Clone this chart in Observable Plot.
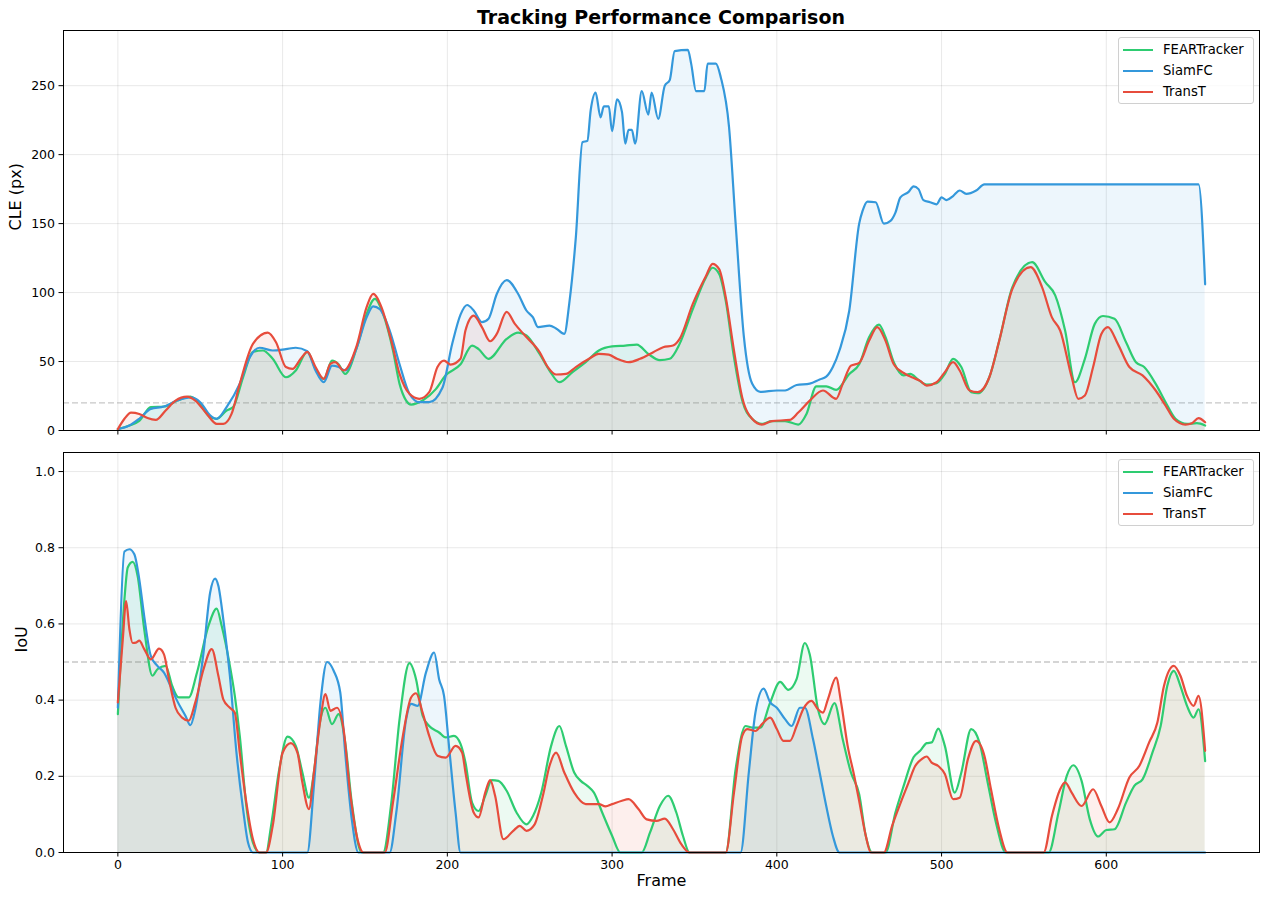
<!DOCTYPE html>
<html>
<head>
<meta charset="utf-8">
<script src="https://cdn.jsdelivr.net/npm/d3@7"></script>
<script src="https://cdn.jsdelivr.net/npm/@observablehq/plot@0.6"></script>
<style>
  html, body { margin: 0; padding: 0; background: #fff; }
  #wrap { position: relative; width: 1270px; height: 903px; font-family: "DejaVu Sans", sans-serif; background: #fff; overflow: hidden; }
  #title { position: absolute; left: 63px; width: 1196px; top: 5px; line-height: 24px; text-align: center; font-weight: bold; font-size: 19px; color: #000; }
  .panel { position: absolute; left: 0; }
  .legend { position: absolute; left: 1118px; width: 136px; height: 67px; border: 1px solid #d0d0d0; border-radius: 3px; background: rgba(255,255,255,0.8); box-sizing: border-box; padding: 1px 0 0 4px; }
  .legend .row { display: flex; align-items: center; height: 21px; font-size: 13.2px; color: #000; }
  .legend .sw { width: 30px; height: 0; border-top: 2.5px solid; margin-right: 10px; }
</style>
</head>
<body>
<div id="wrap">
  <div id="title">Tracking Performance Comparison</div>
  <div id="top" class="panel" style="top:0px"></div>
  <div id="bottom" class="panel" style="top:440px"></div>
</div>
<script>
// ---- Series definitions ----
const seriesNames = ["FEARTracker", "SiamFC", "TransT"];
const seriesColors = ["#2ecc71", "#3498db", "#e74c3c"];

// ---- Axis ticks ----
const frameTicks = [0, 100, 200, 300, 400, 500, 600];
const cleTicks = [0, 50, 100, 150, 200, 250];
const iouTicks = [0, 0.2, 0.4, 0.6, 0.8, 1.0];
const cleThreshold = 20;
const iouThreshold = 0.5;

// ---- CLE (px) per frame [frame, value] ----
const cleFEAR = [[0,1],[7,3.6],[13,7],[20,17],[28,17.4],[36,21.7],[44,24.6],[50,19],[56,9.7],[60,8.5],[66,14.5],[70,17],[76,38.6],[82,57],[88,58],[94,52],[102,38.6],[108,43.5],[115,57],[120,44.7],[125,37.4],[130,50.7],[134,48],[138,41],[145,60],[151,84.5],[156,95.4],[161,84.5],[167,58],[171,33.8],[175,21.7],[178,18.8],[185,21.7],[193,30],[199,40],[208,48],[215,61.6],[219,59],[225,52],[236,66.4],[243,71],[248,69],[256,55.5],[262,43.5],[268,35],[276,42.3],[284,49.5],[292,58],[300,61],[308,61.6],[315,62.3],[322,55.5],[329,51],[335,52],[341,62.8],[349,88],[357,111],[361,118],[365,113.5],[369,94],[374,53],[379,21.7],[385,8.5],[391,4.8],[397,6.8],[405,6.8],[413,4.3],[418,12],[424,32],[430,32],[436,29.5],[444,41],[450,48],[456,67.6],[462,76.8],[466,67.6],[471,49.5],[477,40],[481,41],[486,36.7],[491,33.3],[497,34.3],[502,41],[507,52],[512,46],[518,27.8],[522,27],[529,38.6],[535,65],[543,104],[555,122],[563,107.5],[569,98],[575,72.5],[581,35],[587,52],[593,77.3],[598,83],[605,81],[612,64],[618,49.5],[623,46],[630,33.8],[636,20.5],[642,8.5],[649,4.8],[655,5.3],[660,3.6]];
const cleSiamFC = [[0,1],[7,3.6],[13,8.5],[20,15.7],[28,17.4],[36,21.7],[44,24],[50,20.5],[56,11],[60,8.5],[66,17],[74,34],[80,53],[86,60],[94,58],[102,59],[108,60],[115,57.5],[120,43.5],[125,35],[130,47],[134,46],[138,43.5],[145,60],[151,82],[155,90],[159,88],[165,72.5],[171,48],[177,26.6],[183,20.5],[189,20.5],[197,31],[203,63],[208,84],[212,91],[216,87],[221,78.5],[225,81],[230,99],[236,109],[243,99],[248,87],[252,82],[255,75],[262,76],[266,74],[271,70],[274,92],[278,140],[282,209],[285,210],[287,232],[290,245],[293,227],[295,235],[298,235],[300,217],[303,240],[306,231],[308,208],[310,218],[312,218],[314,208],[318,246],[322,229],[324,245],[328,226],[332,250],[335,254],[338,275],[346,276],[348,266],[351,246],[356,246],[358,266],[363,266],[366,256],[371,220],[375,150],[380,68],[385,34],[390,28],[400,29],[405,29],[412,33],[420,34],[426,37],[430,39],[434,46],[438,58],[444,87],[450,150],[452,159],[455,166],[460,165.5],[465,150],[469,152],[472,158],[475,169],[480,173],[483,177],[486,175],[489,167],[493,165.5],[497,164],[500,169],[503,167],[507,170],[511,174],[515,171.5],[521,174],[526,178.5],[550,178.5],[580,178.5],[620,178.5],[656,178.5],[660,106]];
const cleTransT = [[0,1],[4,8.5],[8,13],[13,12],[18,9],[23,7.7],[29,14.5],[35,21.7],[42,24.6],[47,21.7],[54,12],[60,4.8],[64,4.8],[69,12],[74,33.8],[82,62.8],[91,71],[96,64],[102,46],[106,44.7],[111,52],[115,57],[120,46],[125,37.4],[129,48.3],[132,49.5],[137,43.5],[145,61.6],[151,89.4],[155,99],[160,89.4],[166,65],[171,41],[177,26.6],[183,23],[189,27.8],[194,46],[198,50.7],[202,47.8],[208,52],[211,72.5],[216,83.3],[221,75],[226,64.7],[230,70],[236,86],[241,77.3],[247,69],[256,56.8],[261,46],[266,40.6],[272,41],[278,46],[286,52],[292,55.5],[298,55],[303,52],[310,49.5],[317,52],[325,56.8],[331,60.4],[337,61.6],[341,66.4],[349,91.8],[357,112],[361,120.8],[365,117],[369,96.6],[374,58],[379,24],[385,8.5],[391,4.3],[397,6.8],[408,7.7],[413,13],[420,21.7],[428,29],[436,23],[440,33.8],[445,47],[450,49],[456,65],[461,75],[466,65],[471,48],[478,41],[482,38.6],[487,36],[491,32.6],[497,35],[502,42.3],[507,49.5],[511,43.5],[517,29],[522,27.8],[529,38.6],[535,65],[543,102.7],[554,118.4],[561,104],[567,82],[572,72.5],[579,38.6],[583,23],[587,25.4],[592,46],[597,70],[601,75],[607,62.8],[614,46],[622,40],[630,29],[636,18],[641,8.5],[648,4.3],[652,5.3],[656,9],[660,6]];

// ---- IoU per frame [frame, value] ----
const iouFEAR = [[0,0.363],[4,0.665],[6,0.748],[9,0.763],[12,0.726],[16,0.586],[21,0.464],[24,0.481],[29,0.49],[33,0.437],[37,0.407],[43,0.407],[48,0.472],[55,0.595],[60,0.64],[63,0.595],[68,0.49],[71,0.411],[74,0.306],[78,0.122],[82,0.026],[86,0],[90,0],[93,0.07],[98,0.219],[103,0.304],[108,0.28],[112,0.21],[116,0.144],[119,0.21],[122,0.324],[126,0.38],[130,0.337],[134,0.363],[138,0.289],[142,0.131],[148,0],[161,0],[166,0.131],[171,0.35],[177,0.497],[181,0.455],[185,0.359],[189,0.332],[195,0.315],[199,0.302],[204,0.306],[208,0.285],[211,0.236],[215,0.131],[219,0.109],[223,0.149],[227,0.19],[231,0.188],[236,0.162],[242,0.105],[248,0.074],[252,0.096],[257,0.157],[263,0.28],[268,0.332],[272,0.28],[277,0.21],[281,0.188],[285,0.175],[289,0.157],[294,0.105],[300,0.044],[305,0],[318,0],[323,0.052],[329,0.122],[334,0.149],[339,0.105],[343,0.044],[347,0],[369,0],[375,0.219],[381,0.332],[385,0.328],[390,0.328],[396,0.394],[402,0.448],[407,0.427],[412,0.455],[417,0.55],[420,0.52],[425,0.376],[429,0.337],[435,0.392],[440,0.297],[445,0.21],[450,0.153],[454,0.044],[458,0],[466,0],[472,0.105],[477,0.175],[483,0.25],[487,0.267],[491,0.287],[494,0.289],[498,0.325],[502,0.28],[508,0.157],[512,0.21],[518,0.324],[523,0.289],[528,0.184],[533,0.079],[539,0],[565,0],[571,0.105],[576,0.201],[580,0.229],[585,0.188],[590,0.087],[595,0.042],[600,0.059],[605,0.061],[612,0.131],[617,0.175],[622,0.192],[628,0.262],[633,0.332],[637,0.437],[641,0.477],[645,0.437],[649,0.385],[653,0.354],[656,0.376],[660,0.24]];
const iouSiamFC = [[0,0.38],[4,0.79],[7,0.796],[10,0.783],[13,0.717],[16,0.62],[20,0.516],[24,0.49],[28,0.472],[32,0.437],[36,0.398],[41,0.359],[44,0.334],[47,0.376],[52,0.525],[56,0.682],[59,0.719],[61,0.7],[64,0.612],[68,0.464],[72,0.262],[76,0.114],[79,0.026],[82,0],[115,0],[119,0.175],[123,0.394],[127,0.5],[131,0.477],[135,0.42],[138,0.262],[142,0.087],[146,0],[165,0],[169,0.105],[175,0.35],[178,0.39],[182,0.385],[187,0.472],[192,0.525],[195,0.455],[198,0.411],[201,0.28],[205,0.105],[208,0],[378,0],[383,0.21],[387,0.367],[392,0.43],[396,0.394],[400,0.38],[405,0.35],[409,0.332],[414,0.38],[417,0.38],[422,0.297],[426,0.21],[430,0.122],[434,0.044],[438,0],[660,0]];
const iouTransT = [[0,0.394],[3,0.56],[5,0.66],[7,0.586],[9,0.55],[11,0.551],[13,0.556],[16,0.534],[20,0.507],[25,0.535],[28,0.52],[31,0.455],[35,0.38],[39,0.354],[43,0.346],[47,0.394],[52,0.481],[57,0.534],[61,0.464],[64,0.402],[68,0.38],[71,0.367],[74,0.262],[78,0.131],[82,0.035],[86,0],[90,0],[94,0.07],[100,0.262],[105,0.287],[109,0.262],[112,0.184],[116,0.114],[119,0.21],[123,0.35],[126,0.416],[129,0.372],[133,0.38],[137,0.324],[141,0.157],[146,0.026],[149,0],[162,0],[167,0.131],[173,0.306],[178,0.407],[181,0.418],[185,0.367],[189,0.306],[194,0.254],[199,0.249],[205,0.28],[209,0.262],[211,0.21],[216,0.105],[219,0.092],[223,0.157],[226,0.19],[229,0.149],[234,0.035],[240,0.057],[244,0.07],[248,0.057],[253,0.074],[258,0.149],[262,0.227],[266,0.262],[271,0.21],[277,0.157],[284,0.127],[292,0.127],[296,0.121],[300,0.127],[306,0.136],[310,0.14],[316,0.114],[321,0.087],[327,0.083],[332,0.089],[337,0.061],[342,0.022],[347,0],[369,0],[374,0.157],[379,0.306],[382,0.324],[387,0.319],[391,0.337],[396,0.354],[400,0.324],[404,0.293],[408,0.293],[412,0.332],[416,0.376],[421,0.398],[425,0.376],[428,0.367],[431,0.402],[436,0.459],[439,0.394],[443,0.28],[447,0.201],[450,0.135],[454,0.044],[457,0],[465,0],[470,0.07],[476,0.14],[480,0.184],[484,0.227],[488,0.245],[491,0.252],[494,0.236],[498,0.227],[502,0.206],[507,0.14],[511,0.144],[516,0.245],[521,0.293],[526,0.254],[530,0.166],[535,0.061],[540,0],[562,0],[567,0.096],[572,0.166],[575,0.184],[579,0.157],[585,0.122],[592,0.166],[597,0.122],[602,0.079],[607,0.114],[614,0.197],[620,0.227],[626,0.289],[631,0.341],[635,0.437],[641,0.49],[645,0.464],[649,0.411],[653,0.385],[656,0.411],[660,0.267]];

// ---- build tidy tables ----
function tidy(list) {
  const out = [];
  list.forEach((arr, i) => arr.forEach(([f, v]) => out.push({frame: f, value: v, series: seriesNames[i]})));
  return out;
}
const cleData = tidy([cleFEAR, cleSiamFC, cleTransT]);
const iouData = tidy([iouFEAR, iouSiamFC, iouTransT]);

const FONT = "DejaVu Sans, sans-serif";
const curve = "monotone-x";

function seriesMarks(data) {
  const marks = [];
  seriesNames.forEach((name, i) => {
    marks.push(Plot.areaY(data.filter(d => d.series === name), {x: "frame", y: "value", fill: seriesColors[i], fillOpacity: 0.09, curve}));
  });
  seriesNames.forEach((name, i) => {
    marks.push(Plot.lineY(data.filter(d => d.series === name), {x: "frame", y: "value", stroke: seriesColors[i], strokeWidth: 2.2, curve}));
  });
  return marks;
}

function panel({data, height, marginTop, marginBottom, yDomain, yTicks, yFormat, yLabel, threshold, showX, labelOffset}) {
  return Plot.plot({
    width: 1270, height, marginLeft: 63, marginRight: 11, marginTop, marginBottom,
    style: {fontFamily: FONT, fontSize: "12.5px", color: "#000", background: "transparent", overflow: "visible"},
    x: {domain: [-33, 693]},
    y: {domain: yDomain},
    marks: [
      Plot.gridX(frameTicks, {stroke: "#000", strokeOpacity: 0.09}),
      Plot.gridY(yTicks, {stroke: "#000", strokeOpacity: 0.09}),
      Plot.ruleY([threshold], {stroke: "#999", strokeOpacity: 0.55, strokeWidth: 1.4, strokeDasharray: "6,3"}),
      ...seriesMarks(data),
      Plot.axisX(frameTicks, {tickSize: 4.5, tickPadding: 3, label: null, tickFormat: showX ? (d => String(d)) : (() => "")}),
      Plot.axisY(yTicks, {tickSize: 4.5, tickPadding: 4, label: null, tickFormat: yFormat}),
      Plot.text([yLabel], {frameAnchor: "left", rotate: -90, dx: -labelOffset, fontSize: 16, fill: "#000"}),
      ...(showX ? [Plot.text(["Frame"], {frameAnchor: "bottom", dy: 33, fontSize: 16, fill: "#000"})] : []),
      Plot.frame({stroke: "#000", strokeWidth: 1})
    ]
  });
}

document.getElementById("top").appendChild(panel({
  data: cleData, height: 440, marginTop: 30, marginBottom: 10,
  yDomain: [0, 290], yTicks: cleTicks, yFormat: d => String(d), yLabel: "CLE (px)",
  threshold: cleThreshold, showX: false, labelOffset: 48
}));
document.getElementById("bottom").appendChild(panel({
  data: iouData, height: 463, marginTop: 12, marginBottom: 51,
  yDomain: [0, 1.05], yTicks: iouTicks, yFormat: d3.format(".1f"), yLabel: "IoU",
  threshold: iouThreshold, showX: true, labelOffset: 42
}));

function legend(top) {
  const div = document.createElement("div");
  div.className = "legend";
  div.style.top = top + "px";
  seriesNames.forEach((n, i) => {
    const row = document.createElement("div");
    row.className = "row";
    const sw = document.createElement("span");
    sw.className = "sw";
    sw.style.borderColor = seriesColors[i];
    const t = document.createElement("span");
    t.textContent = n;
    row.appendChild(sw); row.appendChild(t);
    div.appendChild(row);
  });
  document.getElementById("wrap").appendChild(div);
}
legend(37);
legend(459);
</script>
</body>
</html>
